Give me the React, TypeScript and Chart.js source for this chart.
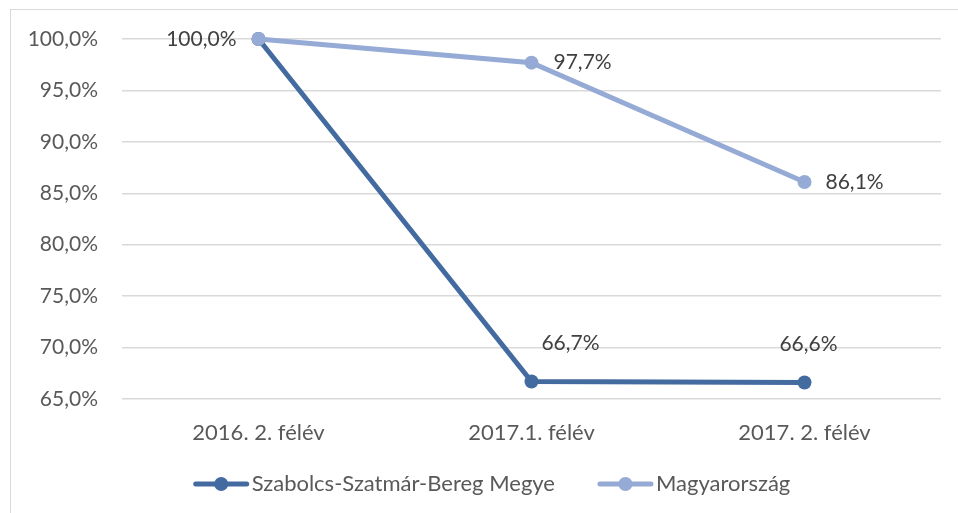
import React, { useEffect, useRef } from "react";
import { Chart, registerables } from "chart.js";

Chart.register(...registerables);

const categories = ["2016. 2. félév", "2017.1. félév", "2017. 2. félév"];
const seriesNames = ["Szabolcs-Szatmár-Bereg Megye", "Magyarország"];
const szabolcsValues = [100, 66.7, 66.6];
const magyarValues = [100, 97.7, 86.1];
const yMin = 65;
const yMax = 100;
const yStep = 5;

const darkBlue = "#446BA0";
const lightBlue = "#95AAD4";
const FONT = "Lato, 'Noto Sans', sans-serif";

type LabelPos = { align: CanvasTextAlign; dx: number; dy: number } | null;
const szabolcsLabelPos: LabelPos[] = [
  { align: "right", dx: -22, dy: 0 },
  { align: "center", dx: 39, dy: -38 },
  { align: "center", dx: 4, dy: -38 },
];
const magyarLabelPos: LabelPos[] = [
  null,
  { align: "left", dx: 22, dy: 0 },
  { align: "left", dx: 21, dy: 0 },
];

const fmt = (v: number) => v.toFixed(1).replace(".", ",") + "%";

const dataLabelPlugin = {
  id: "dataLabels",
  afterDatasetsDraw(chart: any) {
    const ctx = chart.ctx;
    const positions = [szabolcsLabelPos, magyarLabelPos];
    ctx.save();
    ctx.font = `21px ${FONT}`;
    ctx.fillStyle = "#404040";
    ctx.textBaseline = "middle";
    chart.data.datasets.forEach((ds: any, di: number) => {
      const meta = chart.getDatasetMeta(di);
      meta.data.forEach((pt: any, i: number) => {
        const p = positions[di][i];
        if (!p) return;
        ctx.textAlign = p.align;
        ctx.fillText(fmt(ds.data[i]), pt.x + p.dx, pt.y + p.dy);
      });
    });
    ctx.restore();
  },
};

const legendPlugin = {
  id: "customLegend",
  afterDraw(chart: any) {
    const ctx = chart.ctx;
    ctx.save();
    ctx.font = `22px ${FONT}`;
    const lineLen = 55;
    const textGap = 3;
    const itemGap = 43;
    const items = chart.data.datasets.map((ds: any) => ({
      label: ds.label,
      color: ds.borderColor,
      w: ctx.measureText(ds.label).width,
    }));
    const total =
      items.reduce((s: number, it: any) => s + lineLen + textGap + it.w, 0) +
      itemGap * (items.length - 1);
    let x = chart.width / 2 + 13 - total / 2;
    const y = 484;
    items.forEach((it: any) => {
      ctx.strokeStyle = it.color;
      ctx.lineWidth = 5;
      ctx.lineCap = "round";
      ctx.beginPath();
      ctx.moveTo(x + 2, y);
      ctx.lineTo(x + lineLen - 2, y);
      ctx.stroke();
      ctx.fillStyle = it.color;
      ctx.beginPath();
      ctx.arc(x + lineLen / 2, y, 7, 0, Math.PI * 2);
      ctx.fill();
      ctx.fillStyle = "#595959";
      ctx.textAlign = "left";
      ctx.textBaseline = "middle";
      ctx.fillText(it.label, x + lineLen + textGap, y);
      x += lineLen + textGap + it.w + itemGap;
    });
    ctx.restore();
  },
};

export default function App() {
  const canvasRef = useRef<HTMLCanvasElement | null>(null);

  useEffect(() => {
    if (!canvasRef.current) return;
    const chart = new Chart(canvasRef.current, {
      type: "line",
      data: {
        labels: categories,
        datasets: [
          {
            label: seriesNames[0],
            data: szabolcsValues,
            borderColor: darkBlue,
            backgroundColor: darkBlue,
            pointBackgroundColor: darkBlue,
            pointBorderColor: darkBlue,
            borderWidth: 5,
            pointRadius: 7,
            pointBorderWidth: 0,
            tension: 0,
            clip: false,
            order: 1,
          },
          {
            label: seriesNames[1],
            data: magyarValues,
            borderColor: lightBlue,
            backgroundColor: lightBlue,
            pointBackgroundColor: lightBlue,
            pointBorderColor: lightBlue,
            borderWidth: 5,
            pointRadius: 7,
            pointBorderWidth: 0,
            tension: 0,
            clip: false,
            order: 0,
          },
        ],
      },
      options: {
        responsive: false,
        animation: false,
        layout: { padding: { top: 39, right: 17, left: 0, bottom: 54 } },
        plugins: {
          legend: { display: false },
          tooltip: { enabled: false },
        },
        scales: {
          x: {
            offset: true,
            grid: { display: false, drawTicks: false },
            border: { display: false },
            ticks: {
              padding: 21,
              color: "#595959",
              font: { family: FONT, size: 22 },
              maxRotation: 0,
            },
            afterFit: (s: any) => {
              s.height = 60;
            },
          },
          y: {
            min: yMin,
            max: yMax,
            grid: { color: "#D9D9D9", lineWidth: 1.5, drawTicks: false },
            border: { display: false },
            ticks: {
              stepSize: yStep,
              padding: 24,
              color: "#595959",
              font: { family: FONT, size: 21 },
              callback: (v: any) => fmt(Number(v)),
            },
            afterFit: (s: any) => {
              s.width = 122;
            },
          },
        },
      },
      plugins: [dataLabelPlugin, legendPlugin],
    });
    return () => chart.destroy();
  }, []);

  return (
    <div
      style={{
        position: "fixed",
        left: 0,
        top: 0,
        width: 958,
        height: 513,
        overflow: "hidden",
        background: "#fff",
      }}
    >
      <div
        style={{
          position: "absolute",
          left: 10,
          top: 9,
          width: 1000,
          height: 600,
          borderLeft: "1.5px solid #D9D9D9",
          borderTop: "1.5px solid #D9D9D9",
        }}
      />
      <canvas
        ref={canvasRef}
        width={958}
        height={513}
        style={{ position: "absolute", left: 0, top: 0, width: 958, height: 513 }}
      />
    </div>
  );
}
